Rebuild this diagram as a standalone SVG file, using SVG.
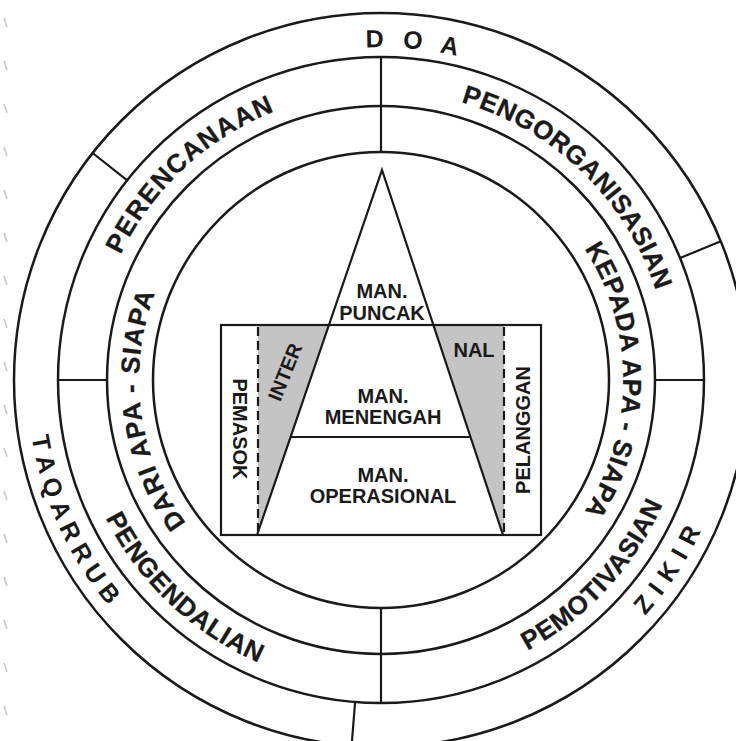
<svg xmlns="http://www.w3.org/2000/svg" xmlns:xlink="http://www.w3.org/1999/xlink" width="736" height="741" viewBox="0 0 736 741">
<style>
.ln{fill:none;stroke:#1a1a1a;stroke-width:2.5}
.thin{fill:none;stroke:#1a1a1a;stroke-width:2.2}
.dash{fill:none;stroke:#1a1a1a;stroke-width:2.2;stroke-dasharray:9 5}
.gray{fill:#c4c4c4;stroke:none}
.ring{font-family:"Liberation Sans",Arial,sans-serif;font-weight:bold;font-size:26px;fill:#1a1a1a;stroke:#1a1a1a;stroke-width:0.3}
.outer{font-family:"Liberation Sans",Arial,sans-serif;font-weight:bold;font-size:25px;fill:#1a1a1a}
.lbl{font-family:"Liberation Sans",Arial,sans-serif;font-weight:bold;font-size:20px;fill:#1a1a1a;text-anchor:middle}
.art{stroke:#c8c8c8;stroke-width:1.6;fill:none}
</style>
<defs>
<path id="pDoa" d="M53.4,320.5 A333,333 0 0 1 714.0,381.7"/>
<path id="pTaq" d="M207.2,71.6 A354,354 0 0 0 498.6,713.9"/>
<path id="pZik" d="M212.1,691.1 A354,354 0 0 0 601.4,103.0"/>
<path id="pPer" d="M153.3,557.9 A289,289 0 0 1 574.4,165.2"/>
<path id="pPeo" d="M191.4,161.9 A289,289 0 0 1 605.6,561.9"/>
<path id="pPem" d="M192.7,623.7 A308,308 0 0 0 608.8,172.7"/>
<path id="pPen" d="M139.6,188.7 A308,308 0 0 0 585.5,610.3"/>
<path id="pDar" d="M392.4,621.7 A242,242 0 0 1 327.8,143.9"/>
<path id="pKep" d="M402.1,138.9 A242,242 0 0 1 402.1,621.1"/>
</defs>
<rect width="736" height="741" fill="#ffffff"/>
<g id="artifacts">
<path class="art" d="M4,18 l3,9 M4,61 l3,9 M4,104 l3,9 M4,147 l3,9 M4,190 l3,9 M4,233 l3,9 M4,276 l3,9 M4,319 l3,9 M4,362 l3,9 M4,405 l3,9 M4,448 l3,9 M4,491 l3,9 M4,534 l3,9 M4,577 l3,9 M4,620 l3,9 M4,663 l3,9 M4,706 l3,9"/>
</g>
<g id="circles">
<circle class="ln" cx="381" cy="380" r="367"/>
<circle class="ln" cx="381" cy="380" r="323"/>
<circle class="ln" cx="381" cy="380" r="274"/>
<circle class="ln" cx="381" cy="380" r="228"/>
</g>
<g id="connectors">
<line class="thin" x1="92.6" y1="153.0" x2="127.2" y2="180.3"/>
<line class="thin" x1="720.8" y1="241.3" x2="680.1" y2="258.0"/>
<line class="thin" x1="355.1" y1="702.0" x2="351.6" y2="745.8"/>
<line class="thin" x1="381" y1="57" x2="381" y2="152"/>
<line class="thin" x1="381" y1="608" x2="381" y2="703"/>
<line class="thin" x1="58" y1="380" x2="107" y2="380"/>
<line class="thin" x1="655" y1="380" x2="704" y2="380"/>
</g>
<g id="ring-outer">
<text class="outer"><textPath xlink:href="#pDoa" href="#pDoa" startOffset="50%" text-anchor="middle" textLength="92" lengthAdjust="spacing">D O A</textPath></text>
<text class="outer"><textPath xlink:href="#pTaq" href="#pTaq" startOffset="50%" text-anchor="middle" textLength="188" lengthAdjust="spacing">T A Q A R R U B</textPath></text>
<text class="outer"><textPath xlink:href="#pZik" href="#pZik" startOffset="50%" text-anchor="middle" textLength="102" lengthAdjust="spacing">Z I K I R</textPath></text>
</g>
<g id="ring-functions">
<text class="ring"><textPath xlink:href="#pPer" href="#pPer" startOffset="50%" text-anchor="middle" textLength="215" lengthAdjust="spacing">PERENCANAAN</textPath></text>
<text class="ring"><textPath xlink:href="#pPeo" href="#pPeo" startOffset="50%" text-anchor="middle" textLength="282" lengthAdjust="spacing">PENGORGANISASIAN</textPath></text>
<text class="ring"><textPath xlink:href="#pPem" href="#pPem" startOffset="50%" text-anchor="middle" textLength="203" lengthAdjust="spacing">PEMOTIVASIAN</textPath></text>
<text class="ring"><textPath xlink:href="#pPen" href="#pPen" startOffset="50%" text-anchor="middle" textLength="215" lengthAdjust="spacing">PENGENDALIAN</textPath></text>
</g>
<g id="ring-inner">
<text class="ring"><textPath xlink:href="#pDar" href="#pDar" startOffset="50%" text-anchor="middle" textLength="242" lengthAdjust="spacing">DARI APA - SIAPA</textPath></text>
<text class="ring"><textPath xlink:href="#pKep" href="#pKep" startOffset="50%" text-anchor="middle" textLength="278" lengthAdjust="spacing">KEPADA APA - SIAPA</textPath></text>
</g>
<g id="box">
<polygon class="gray" points="258,325 328.9,325 257.3,535 258,535"/>
<polygon class="gray" points="433.4,325 504,325 504,535 503,535"/>
<rect class="thin" x="221" y="325" width="320" height="210"/>
<line class="dash" x1="258" y1="327" x2="258" y2="535"/>
<line class="dash" x1="504" y1="327" x2="504" y2="535"/>
</g>
<g id="pyramid">
<polyline class="thin" points="257,535 382,170 503,535"/>
<line class="thin" x1="290.6" y1="437" x2="470.5" y2="437"/>
</g>
<g id="labels">
<text class="lbl" x="382" y="298">MAN.</text>
<text class="lbl" x="382" y="320">PUNCAK</text>
<text class="lbl" x="383" y="403">MAN.</text>
<text class="lbl" x="383" y="424">MENENGAH</text>
<text class="lbl" x="383" y="482">MAN.</text>
<text class="lbl" x="383" y="503">OPERASIONAL</text>
<text class="lbl" x="474" y="357">NAL</text>
<text class="lbl" transform="translate(291.5,374.6) rotate(-68)">INTER</text>
<text class="lbl" transform="translate(233,429) rotate(90)">PEMASOK</text>
<text class="lbl" transform="translate(530,430) rotate(-90)">PELANGGAN</text>
</g>
</svg>
